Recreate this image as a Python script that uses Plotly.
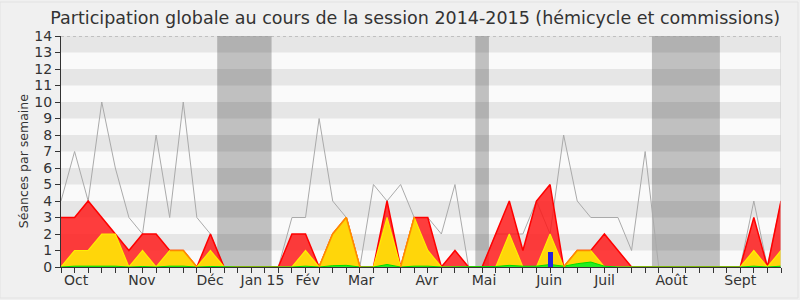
import plotly.graph_objects as go

# Weekly data, session 2014-2015 (week index 0..53)
weeks = list(range(54))
presences = [3, 3, 4, 3, 2, 1, 2, 2, 1, 1, 0, 2, 0, 0, 0, 0, 0, 2, 2, 0,
             2, 3, 0, 0, 4, 0, 3, 3, 0, 1, 0, 0, 2, 4, 1, 4, 5, 0, 1, 1,
             2, 1, 0, 0, 0, 0, 0, 0, 0, 0, 0, 3, 0, 4]
participations = [0, 1, 1, 2, 2, 0, 1, 0, 1, 1, 0, 1, 0, 0, 0, 0, 0, 0, 1, 0,
                  2, 3, 0, 0, 3, 0, 3, 1, 0, 0, 0, 0, 0, 2, 0, 0, 2, 0, 1, 1,
                  0, 0, 0, 0, 0, 0, 0, 0, 0, 0, 0, 1, 0, 1]
interventions = [0, 0.05, 0.05, 0.05, 0.05, 0, 0.03, 0, 0.05, 0.05, 0, 0.03, 0, 0, 0, 0, 0, 0, 0.05, 0,
                 0.08, 0.1, 0, 0, 0.15, 0, 0.05, 0.05, 0, 0, 0, 0, 0.03, 0.1, 0.05, 0.05, 0.15, 0.05, 0.2, 0.3,
                 0.05, 0, 0, 0, 0, 0, 0, 0, 0, 0, 0, 0.05, 0, 0.05]
mediane = [4, 7, 4, 10, 6, 3, 2, 8, 3, 10, 3, 2, 0, 0, 0, 0, 0, 3, 3, 9,
           4, 3, 0, 5, 4, 5, 3, 3, 2, 5, 0, 0, 2, 2, 2, 4, 2, 8, 4, 3,
           3, 3, 1, 7, 0, 0, 0, 0, 0, 0, 0, 4, 0, 4]
questions = [0] * 54
questions[36] = 0.9
vacation_weeks = [12, 13, 14, 15, 31, 44, 45, 46, 47, 48]

month_labels = ["Oct", "Nov", "Déc", "Jan 15", "Fév", "Mar", "Avr", "Mai", "Juin", "Juil", "Août", "Sept"]
month_pos = [1.11, 5.95, 10.97, 14.83, 18.15, 22.09, 26.93, 31.14, 35.93, 40.01, 44.94, 50.0]

FONT = "DejaVu Sans, sans-serif"
TXT = "#333333"
NW = 53

fig = go.Figure()

# median line
fig.add_trace(go.Scatter(x=weeks, y=mediane, mode="lines",
                         line=dict(color="#aaaaaa", width=1), hoverinfo="skip"))
# presences (red)
fig.add_trace(go.Scatter(x=weeks, y=presences, mode="lines", fill="tozeroy",
                         fillcolor="rgba(255,20,20,0.82)",
                         line=dict(color="#ff0000", width=1.5), hoverinfo="skip"))
# participations (yellow)
fig.add_trace(go.Scatter(x=weeks, y=participations, mode="lines", fill="tozeroy",
                         fillcolor="#ffd60a",
                         line=dict(color="#ffee00", width=1.2), hoverinfo="skip"))
# interventions (green)
fig.add_trace(go.Scatter(x=weeks, y=interventions, mode="lines", fill="tozeroy",
                         fillcolor="#22ee22",
                         line=dict(color="#00dd00", width=1), hoverinfo="skip"))
# orange edge where presences == participations
def same(i):
    return 0 <= i <= NW and presences[i] == participations[i]
orange = [presences[i] if same(i) and (presences[i] > 0 or (same(i - 1) and presences[i - 1] > 0)
                                       or (same(i + 1) and presences[i + 1] > 0)) else None
          for i in weeks]
fig.add_trace(go.Scatter(x=weeks, y=orange, mode="lines", connectgaps=False,
                         line=dict(color="#ff8800", width=1.5), hoverinfo="skip"))
# questions (blue bars) on overlay axis so they sit on top
fig.add_trace(go.Bar(x=weeks, y=questions, width=0.37, marker=dict(color="#2222dd", line=dict(width=0)),
                     yaxis="y2", hoverinfo="skip"))

shapes = []
# vacation spans (merge contiguous weeks)
runs = []
for w in vacation_weeks:
    if runs and w == runs[-1][1] + 1:
        runs[-1][1] = w
    else:
        runs.append([w, w])
for a, b in runs:
    shapes.append(dict(type="rect", xref="x", yref="y", x0=a - 0.5, x1=b + 0.5, y0=0, y1=14,
                       fillcolor="#c0c0c0", line=dict(width=0), layer="below"))
# horizontal stripes
for k in range(1, 14, 2):
    shapes.append(dict(type="rect", xref="x", yref="y", x0=0, x1=NW, y0=k, y1=k + 1,
                       fillcolor="rgba(0,0,0,0.08)", line=dict(width=0), layer="below"))
# top dotted border and right edge
shapes.append(dict(type="line", xref="x", yref="y", x0=0, x1=NW, y0=14, y1=14,
                   line=dict(color="#999999", width=1, dash="dot"), layer="above"))
shapes.append(dict(type="line", xref="x", yref="y", x0=NW, x1=NW, y0=0, y1=14,
                   line=dict(color="#cccccc", width=1), layer="above"))
# outer rounded frame
shapes.append(dict(type="rect", xref="paper", yref="paper", x0=-61/720, x1=1 + 17/720,
                   y0=-31/231, y1=1 + 34/231, line=dict(color="#e2e2e2", width=1),
                   fillcolor="rgba(0,0,0,0)", layer="below"))

fig.update_layout(
    width=800, height=300,
    margin=dict(l=61, r=19, t=36, b=33),
    paper_bgcolor="#f0f0f0", plot_bgcolor="#fafafa",
    showlegend=False,
    title=dict(text="Participation globale au cours de la session 2014-2015 (hémicycle et commissions)",
               x=0.519, xanchor="center", y=0.962, yanchor="top",
               font=dict(family=FONT, size=17.5, color=TXT)),
    xaxis=dict(range=[0, NW], tickmode="array", tickvals=month_pos, ticktext=month_labels,
               ticks="", showgrid=False, zeroline=False,
               showline=True, linecolor="#333333", linewidth=1,
               tickfont=dict(family=FONT, size=14, color=TXT),
               minor=dict(tickmode="linear", tick0=0, dtick=1, ticks="outside", ticklen=5,
                          tickcolor="#333333", tickwidth=1, showgrid=False)),
    yaxis=dict(range=[0, 14], tickmode="linear", tick0=0, dtick=1, ticks="outside", ticklen=5,
               tickcolor="#333333", showgrid=False, zeroline=False,
               showline=True, linecolor="#333333", linewidth=1,
               tickfont=dict(family=FONT, size=14, color=TXT)),
    yaxis2=dict(range=[0, 14], overlaying="y", visible=False),
    bargap=0,
    shapes=shapes,
    annotations=[dict(text="Séances par semaine", textangle=-90, showarrow=False,
                      xref="paper", yref="paper", x=-38/720, y=(266.7 - 161) / 230.7,
                      xanchor="center", yanchor="middle",
                      font=dict(family=FONT, size=12.5, color=TXT))],
)

fig.write_html("out.html")
